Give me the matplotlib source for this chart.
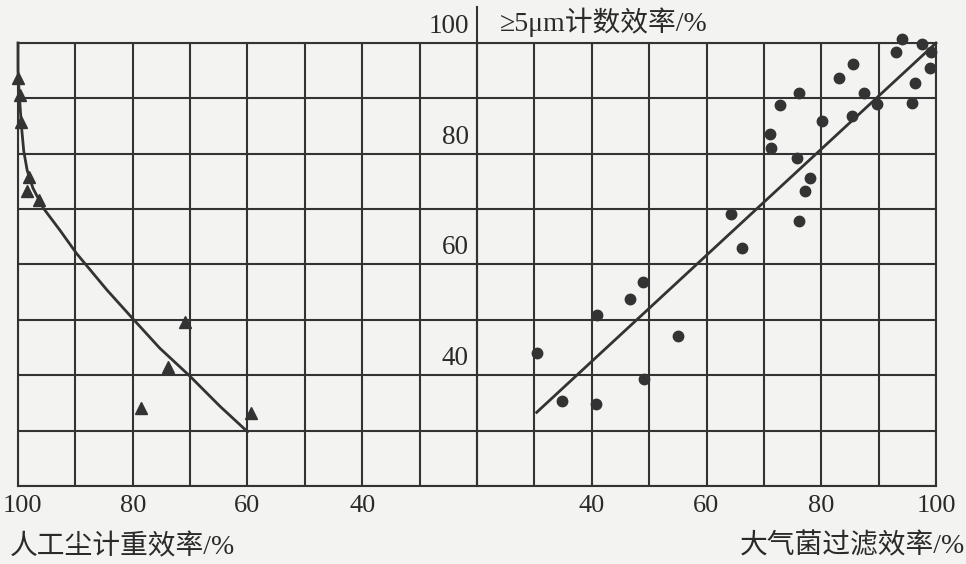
import numpy as np
import matplotlib
matplotlib.use("Agg")
import matplotlib.pyplot as plt

plt.rcParams['font.family'] = ['Liberation Serif', 'Noto Sans CJK SC']

# left half: 人工尘计重效率 (reversed x) vs count efficiency
tri_x = [100, 99.6, 99.5, 98.1, 98.4, 96.3, 70.9, 73.9, 78.6, 59.4]
tri_y = [93.7, 90.6, 85.7, 75.8, 73.3, 71.7, 49.6, 41.5, 34.1, 33.2]
curve_x = [100, 100, 99.8, 99.4, 99.0, 98.4, 97.4, 95.6, 92.7, 89.8, 84.5, 79.8, 75.3, 70.0, 64.8, 60]
curve_y = [100, 95, 91.0, 85.0, 80.5, 77.0, 73.8, 70.2, 66.2, 62.0, 55.4, 50.0, 44.9, 39.8, 34.4, 29.8]

# right half: 大气菌过滤效率 vs count efficiency
dot_x = [30.4, 34.9, 40.8, 40.9, 46.6, 49.0, 49.1, 55.0,
         94.0, 93.1, 97.6, 99.2, 98.9, 96.4, 95.8, 89.8, 87.4, 85.5,
         83.1, 85.4, 80.2, 76.2, 72.8, 71.0, 71.3, 75.8, 78.1, 77.1,
         76.2, 64.3, 66.2]
dot_y = [44.0, 35.4, 34.8, 50.9, 53.7, 56.9, 39.3, 47.0,
         100.8, 98.4, 99.9, 98.4, 95.4, 92.8, 89.1, 89.0, 91.0, 96.2,
         93.6, 86.8, 85.9, 91.0, 88.8, 83.5, 81.1, 79.3, 75.6, 73.3,
         67.9, 69.1, 62.9]
fit_x = [30.4, 100]
fit_y = [33.3, 100]

left_ticks = [100, 80, 60, 40]
right_ticks = [40, 60, 80, 100]
y_ticks = [100, 80, 60, 40]

ink = '#333333'
txt = '#2a2a2a'
paper = '#f3f3f1'

fig = plt.figure(figsize=(9.66, 5.64), dpi=100, facecolor=paper)
ax = fig.add_axes([18 / 966, 78 / 564, 918 / 966, 443 / 564])
ax.set_facecolor(paper)
ax.set_xlim(100, -60)
ax.set_ylim(20, 100)
ax.set_xticks(np.arange(100, -61, -10))
ax.set_yticks(np.arange(20, 101, 10))
ax.grid(color=ink, lw=1.5)
ax.tick_params(length=0, labelleft=False, labelbottom=False)
for s in ax.spines.values():
    s.set_color(ink)
    s.set_linewidth(1.5)

ax2 = ax.twiny()
ax2.set_xlim(-60, 100)
ax2.set_xticks([])
for s in ax2.spines.values():
    s.set_visible(False)

# x tick numbers under the grid
for v in left_ticks:
    dx = 4 if v == 100 else 0
    ax.annotate(str(v), xy=(v, 20), xytext=(dx, -20), textcoords='offset pixels',
                ha='center', va='center', fontsize=19, color=txt, annotation_clip=False)
for v in right_ticks:
    ax2.annotate(str(v), xy=(v, 20), xytext=(0, -20), textcoords='offset pixels',
                 ha='center', va='center', fontsize=19, color=txt, annotation_clip=False)

# left series
ax.plot(curve_x, curve_y, color=ink, lw=2, clip_on=False)
ax.plot(tri_x, tri_y, '^', color=ink, ms=9, clip_on=False)

# right series
ax2.plot(fit_x, fit_y, color=ink, lw=2, clip_on=False)
ax2.plot(dot_x, dot_y, 'o', color=ink, ms=7.5, clip_on=False)

# y axis of the right half at x = 20
ax2.plot([20, 20], [20, 106.5], color=ink, lw=1.5, clip_on=False)
for v in y_ticks:
    ax2.annotate(str(v), xy=(20, v), xytext=(-8, 10), textcoords='offset pixels',
                 ha='right', va='baseline', fontsize=19.5, color=txt, annotation_clip=False)
ax2.text(24, 103.8, '≥5μm计数效率/%', ha='left', va='center',
         fontsize=20, color=txt, clip_on=False)

fig.text(10 / 966, 1 - 547 / 564, '人工尘计重效率/%', ha='left', va='center',
         fontsize=20, color=txt)
fig.text(965 / 966, 1 - 546 / 564, '大气菌过滤效率/%', ha='right', va='center',
         fontsize=20, color=txt)

fig.savefig('out.png', dpi=100, facecolor=paper)
